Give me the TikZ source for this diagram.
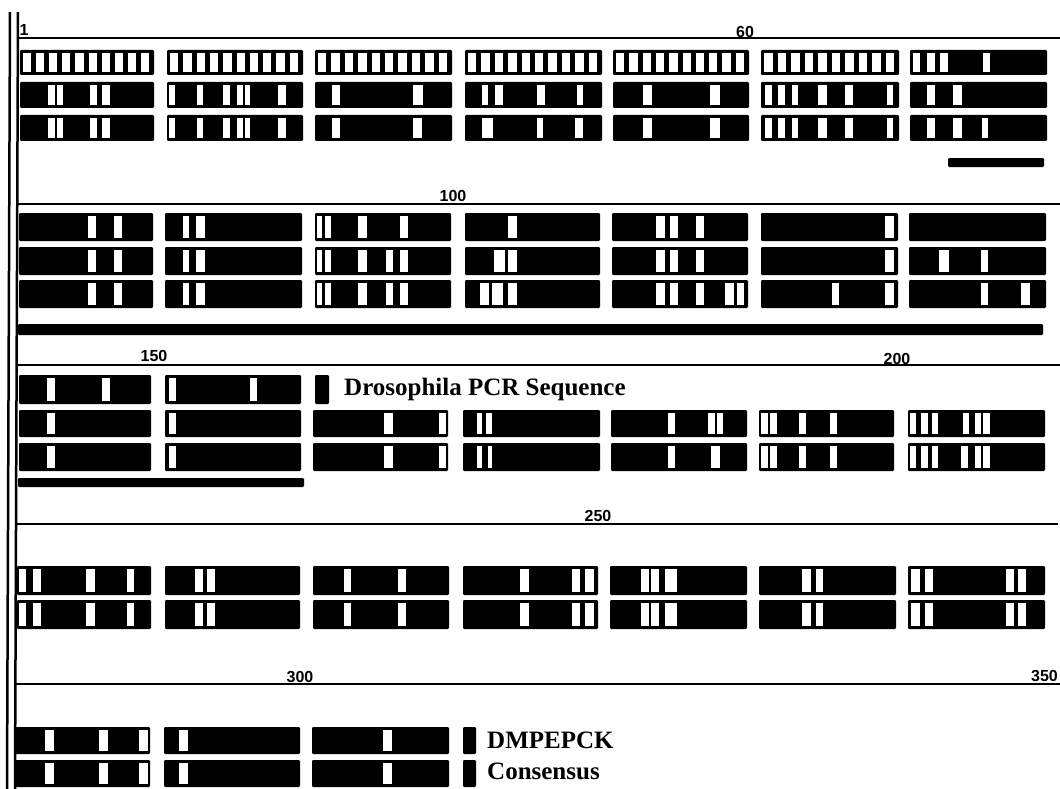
\documentclass[tikz,border=0pt]{standalone}
\usepackage{fontspec}
\setmainfont{Liberation Serif}
\newfontfamily\labfont{Liberation Sans}
\tikzset{
 blk/.style={fill=black, rounded corners=1.2pt},
 gap/.style={fill=white},
 ruler/.style={line width=2pt},
 vline/.style={line width=2.5pt},
 tick/.style={font=\labfont\bfseries\fontsize{16}{16}\selectfont, inner sep=0pt},
 legtext/.style={font=\bfseries\fontsize{25}{25}\selectfont, inner sep=0pt, anchor=base west},
}
\newcommand\seg[5]{%
 \fill[blk] (#1,#3) rectangle (#2,#4);
 \foreach \a/\b in {#5} {\fill[gap] (\a,#3+3) rectangle (\b,#4-3);}}
\newcommand\plainseg[4]{\fill[blk] (#1,#3) rectangle (#2,#4);}
\newcommand\stripes[4]{%
 \fill[blk] (#1,#3) rectangle (#2,#4);
 \pgfmathsetmacro\stpitch{(#2-#1-3)/10}
 \foreach \i in {0,...,9} {\fill[gap] ({#1+3+\i*\stpitch},#3+3) rectangle ({#1+\i*\stpitch+\stpitch-2},#4-3);}}
\begin{document}
\begin{tikzpicture}[x=1pt,y=-1pt]
\useasboundingbox (0,0) rectangle (1060,789);
% left double line
\draw[vline] (10,12) -- (7,789);
\draw[vline] (18,12) -- (15,789);
% ===== Section 1 =====
\draw[ruler] (18,38) -- (1060,38);
\node[tick] (l1) at (24,30) {1};
\node[tick] (l60) at (745,32) {60};
\stripes{20}{154}{50}{75}
\stripes{167}{303}{50}{75}
\stripes{315}{452}{50}{75}
\stripes{465}{602}{50}{75}
\stripes{613}{749}{50}{75}
\stripes{761}{899}{50}{75}
\seg{910}{1047}{50}{75}{913/920,927/935,940/948,983/990}
% row 2
\seg{20}{154}{82}{108}{48/55,57/63,90/97,102/110}
\seg{167}{303}{82}{108}{169/175,197/203,223/230,237/243,245/250,278/286}
\seg{315}{452}{82}{108}{332/340,413/423}
\seg{465}{602}{82}{108}{482/488,495/503,537/545,577/583}
\seg{613}{749}{82}{108}{643/652,710/720}
\seg{761}{899}{82}{108}{765/772,778/785,792/798,818/827,845/853,887/893}
\seg{910}{1047}{82}{108}{927/935,953/962}
% row 3
\seg{20}{154}{115}{141}{48/55,57/63,90/97,102/110}
\seg{167}{303}{115}{141}{169/175,197/203,223/230,237/243,245/250,278/286}
\seg{315}{452}{115}{141}{332/340,413/422}
\seg{465}{602}{115}{141}{482/493,537/543,575/583}
\seg{613}{749}{115}{141}{643/652,710/720}
\seg{761}{899}{115}{141}{765/772,778/785,792/798,818/827,845/853,887/893}
\seg{910}{1047}{115}{141}{927/935,953/962,982/988}
\fill[blk] (948,158) rectangle (1044,167);
% ===== Section 2 =====
\draw[ruler] (17,204) -- (1060,204);
\node[tick] (l100) at (453,196) {100};
\seg{19}{153}{213}{241}{88/96,114/122}
\seg{165}{302}{213}{241}{183/189,196/205}
\seg{315}{451}{213}{241}{317/322,325/331,358/367,400/408}
\seg{465}{600}{213}{241}{508/517}
\seg{612}{748}{213}{241}{656/665,670/678,696/704}
\seg{761}{898}{213}{241}{885/894}
\plainseg{909}{1046}{213}{241}
% row 2
\seg{19}{153}{247}{275}{88/96,114/122}
\seg{165}{302}{247}{275}{183/189,196/205}
\seg{315}{451}{247}{275}{317/322,325/331,358/367,386/393,400/408}
\seg{465}{600}{247}{275}{494/505,508/517}
\seg{612}{748}{247}{275}{656/665,670/678,696/704}
\seg{761}{898}{247}{275}{885/894}
\seg{909}{1046}{247}{275}{939/949,981/988}
% row 3
\seg{19}{153}{280}{308}{88/96,114/122}
\seg{165}{302}{280}{308}{183/189,196/205}
\seg{315}{451}{280}{308}{317/322,325/331,358/367,386/393,400/408}
\seg{465}{600}{280}{308}{480/489,492/503,508/517}
\seg{612}{748}{280}{308}{656/665,670/678,696/704,725/734,737/744}
\seg{761}{898}{280}{308}{832/839,885/894}
\seg{909}{1046}{280}{308}{981/988,1021/1030}
\fill[blk] (18,324) rectangle (1043,335);
% ===== Section 3 =====
\draw[ruler] (16,365) -- (1060,365);
\node[tick] (l150) at (154,356) {150};
\node[tick] (l200) at (897,359) {200};
\seg{19}{151}{375}{404}{47/55,102/110}
\seg{165}{301}{375}{404}{169/176,250/257}
\fill[blk] (315,375) rectangle (329,404);
\node[legtext] (t1) at (344,395) {Drosophila PCR Sequence};
% row 2
\seg{19}{151}{410}{437}{47/55}
\seg{165}{301}{410}{437}{169/176}
\seg{313}{448}{410}{437}{384/393,439/446}
\seg{463}{600}{410}{437}{477/482,486/492}
\seg{611}{747}{410}{437}{668/675,708/715,717/723}
\seg{759}{894}{410}{437}{761/768,770/777,799/806,830/837}
\seg{908}{1045}{410}{437}{910/916,921/928,932/938,963/969,975/981,983/990}
% row 3
\seg{19}{151}{443}{471}{47/55}
\seg{165}{301}{443}{471}{169/176}
\seg{313}{448}{443}{471}{384/393,439/446}
\seg{463}{600}{443}{471}{477/482,488/492}
\seg{611}{747}{443}{471}{668/675,711/720}
\seg{759}{894}{443}{471}{761/768,770/777,799/806,830/837}
\seg{908}{1045}{443}{471}{910/916,921/928,932/938,961/968,975/981,983/990}
\fill[blk] (18,478) rectangle (304,487);
% ===== Section 4 =====
\draw[ruler] (16,524) -- (1058,524);
\node[tick] (l250) at (598,516) {250};
\seg{17}{151}{566}{595}{19/26,33/41,86/95,127/134}
\seg{165}{300}{566}{595}{195/203,207/215}
\seg{313}{449}{566}{595}{344/351,398/406}
\seg{463}{598}{566}{595}{520/529,572/580,585/594}
\seg{610}{747}{566}{595}{641/649,651/659,665/677}
\seg{759}{896}{566}{595}{802/811,816/823}
\seg{908}{1045}{566}{595}{911/920,925/933,1006/1014,1018/1026}
% row 2
\seg{17}{151}{600}{629}{19/26,33/41,86/95,127/134}
\seg{165}{300}{600}{629}{195/203,207/215}
\seg{313}{449}{600}{629}{344/351,398/406}
\seg{463}{598}{600}{629}{520/529,572/580,585/594}
\seg{610}{747}{600}{629}{641/649,651/659,665/677}
\seg{759}{896}{600}{629}{802/811,816/823}
\seg{908}{1045}{600}{629}{911/920,925/933,1006/1014,1018/1026}
% ===== Section 5 =====
\draw[ruler] (15,684) -- (1060,684);
\node[tick] (l300) at (300,677) {300};
\node[tick, anchor=east] (l350) at (1058,676) {350};
\seg{15}{150}{727}{754}{45/54,99/108,139/148}
\seg{164}{300}{727}{754}{179/188}
\seg{312}{449}{727}{754}{383/392}
\fill[blk] (463,727) rectangle (476,754);
\node[legtext] (t2) at (487,748) {DMPEPCK};
\seg{15}{150}{760}{787}{45/54,99/108,139/148}
\seg{164}{300}{760}{787}{179/188}
\seg{312}{449}{760}{787}{383/392}
\fill[blk] (463,760) rectangle (476,787);
\node[legtext] (t3) at (487,779) {Consensus};
\end{tikzpicture}
\end{document}
